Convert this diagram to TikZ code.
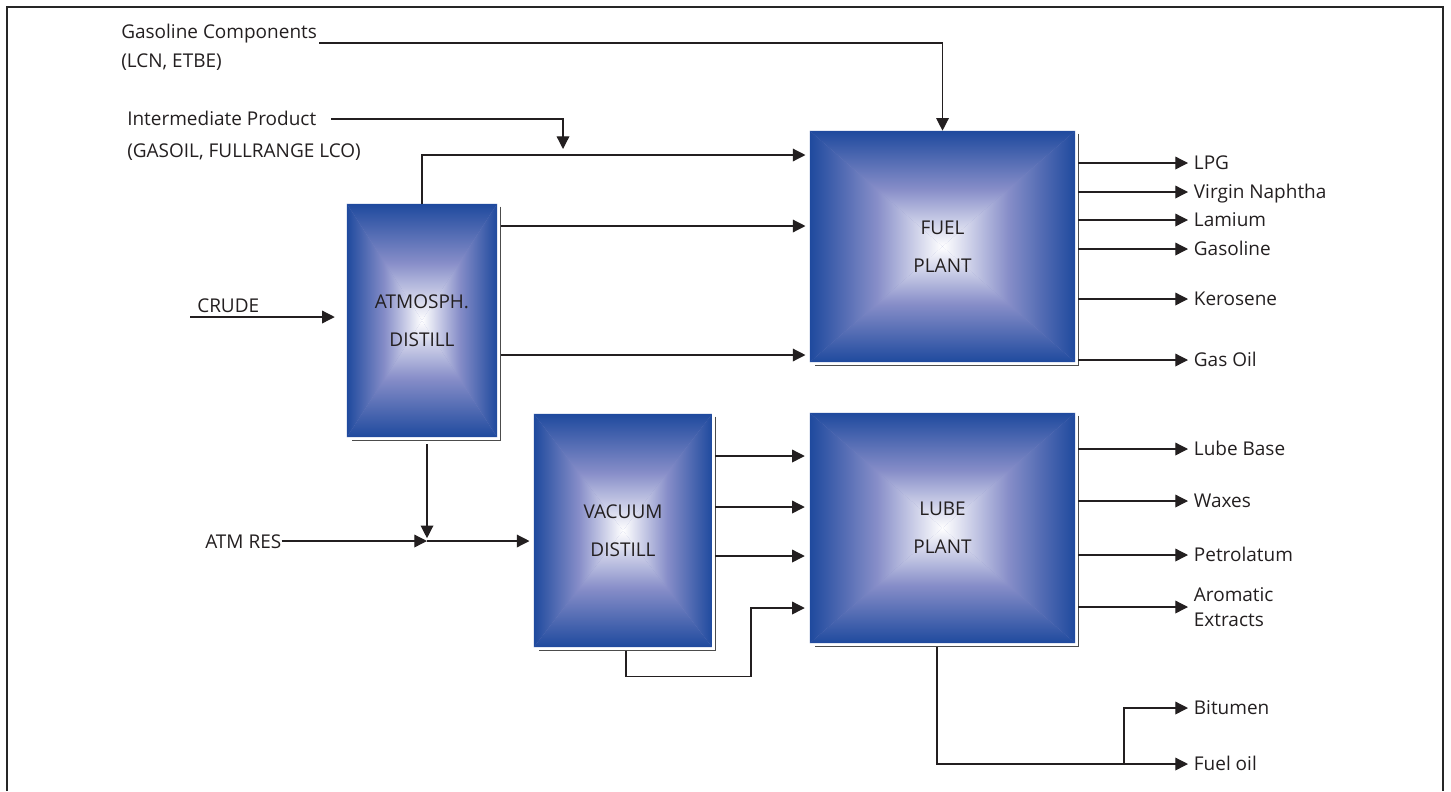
\documentclass[tikz,border=0pt]{standalone}
\usepackage{fontspec}
\setmainfont{Open Sans}
\usetikzlibrary{arrows.meta,calc}
\definecolor{PlantBlue}{HTML}{1F4A9E}
\definecolor{PlantLilac}{HTML}{868DC8}
\definecolor{Ink}{HTML}{231F20}

\tikzset{
  plant/.style 2 args={minimum width=#1, minimum height=#2, inner sep=0pt, align=center,
    font=\fontsize{13.5}{27}\selectfont, text=Ink,
    path picture={
      \fill[PlantLilac] (path picture bounding box.south west) rectangle (path picture bounding box.north east);
      \shade[top color=PlantBlue,bottom color=white,middle color=PlantLilac]
        (path picture bounding box.north west) -- (path picture bounding box.north east) -- (path picture bounding box.center) -- cycle;
      \shade[top color=white,bottom color=PlantBlue,middle color=PlantLilac]
        (path picture bounding box.south west) -- (path picture bounding box.south east) -- (path picture bounding box.center) -- cycle;
      \shade[left color=PlantBlue,right color=white,middle color=PlantLilac]
        (path picture bounding box.north west) -- (path picture bounding box.south west) -- (path picture bounding box.center) -- cycle;
      \shade[left color=white,right color=PlantBlue,middle color=PlantLilac]
        (path picture bounding box.north east) -- (path picture bounding box.south east) -- (path picture bounding box.center) -- cycle;
    }},
  rim/.style={draw=black!70, line width=0.8pt},
  flow/.style={draw=Ink, line width=0.9pt, -{Triangle[length=9pt,width=9pt]}},
  feed/.style={font=\fontsize{13.5}{16}\selectfont, text=Ink, inner sep=0pt},
  product/.style={feed, anchor=west, inner xsep=4pt, text height=9.6pt, text depth=0pt},
}

\begin{document}
\begin{tikzpicture}[x=0.025cm,y=-0.025cm]
  \useasboundingbox (0,0) rectangle (1451,791);
  \draw[line width=1.2pt, black!85] (7,791) -- (7,7) -- (1443,7) -- (1443,791);

  % plants
  \node[plant={3.75cm}{5.825cm}] (atm) at (422,320.5) {ATMOSPH.\\DISTILL};
  \node[plant={6.625cm}{5.775cm}] (fuel) at (942.5,246.5) {FUEL\\PLANT};
  \node[plant={4.45cm}{5.825cm}] (vac) at (623,530.5) {VACUUM\\DISTILL};
  \node[plant={6.625cm}{5.75cm}] (lube) at (942.5,528) {LUBE\\PLANT};
  \foreach \b in {atm,fuel,vac,lube}
    \draw[rim] ($(\b.north east)+(3.5,3)$) -- ($(\b.south east)+(3.5,3.5)$) -- ($(\b.south west)+(5,3.5)$);

  % feeds
  \node[feed, anchor=base west] (gc) at (121,38) {Gasoline Components};
  \node[feed, anchor=base west] (gcsub) at (121,67) {(LCN, ETBE)};
  \node[feed, anchor=base west] (ip) at (127,125) {Intermediate Product};
  \node[feed, anchor=base west] (ipsub) at (127,157) {(GASOIL, FULLRANGE LCO)};
  \node[feed, anchor=base west] (crude) at (197,312) {CRUDE};
  \node[feed, anchor=base west] (atmres) at (205,548) {ATM RES};

  \draw[flow] ([shift={(2,5)}]gc.base east) -| (fuel.north);
  \coordinate (ipdrop) at (563,149);
  \draw[flow] ([shift={(15,-6)}]ip.base east) -| (ipdrop);
  \draw[flow, shorten >=3pt] (atm.north) |- (fuel.west |- 0,155);
  \draw[flow, shorten <=2.8pt, shorten >=3pt] (atm.east |- 0,226) -- (fuel.west |- 0,226);
  \draw[flow, shorten <=2.8pt, shorten >=3pt] (atm.east |- 0,355) -- (fuel.west |- 0,355);
  \draw[flow, shorten >=8.5pt] ([shift={(-7,5)}]crude.base west) -- (atm.west |- 0,317);

  % residue to vacuum
  \coordinate (resjoin) at (427,541);
  \draw[flow, shorten <=5pt, shorten >=2pt] (atm.south -| resjoin) -- (resjoin);
  \draw[flow] (atmres.base east |- resjoin) -- (resjoin);
  \draw[flow, shorten >=3pt] (resjoin) -- (vac.west |- resjoin);
  \foreach \y in {456,507,556}
    \draw[flow, shorten <=2.2pt, shorten >=3.5pt] (vac.east |- 0,\y) -- (lube.west |- 0,\y);
  \coordinate (vacbot) at ($(vac.south)+(3,3.5)$);
  \draw[flow, shorten >=3.5pt] (vacbot) -- ++(0,26) -- ++(125,0) |- (lube.west |- 0,608);

  % products
  \foreach \y/\t [count=\i] in {163/LPG, 192/Virgin Naphtha, 220/Lamium, 249/Gasoline, 299/Kerosene, 360/Gas Oil}{
    \node[product] (fp\i) at (1188,\y) {\t};
    \draw[flow, shorten <=2.2pt] (fuel.east |- fp\i) -- (fp\i);
  }
  \foreach \y/\t [count=\i] in {449/Lube Base, 501/Waxes, 555/Petrolatum}{
    \node[product] (lp\i) at (1188,\y) {\t};
    \draw[flow, shorten <=2.2pt] (lube.east |- lp\i) -- (lp\i);
  }
  \node[feed, anchor=west, align=left, inner xsep=4pt, font=\fontsize{13.5}{17.8}\selectfont] (lp4) at (1188,607) {Aromatic\\Extracts};
  \draw[flow, shorten <=2.2pt] (lube.east |- lp4) -- (lp4);

  \node[product] (bit) at (1188,708) {Bitumen};
  \node[product] (fo) at (1188,764) {Fuel oil};
  \coordinate (lubebot) at ($(lube.south)+(-5.5,3.5)$);
  \coordinate (fork) at (1124,764);
  \draw[flow] (lubebot) |- (fo);
  \draw[flow] (fork) |- (bit);
\end{tikzpicture}
\end{document}
